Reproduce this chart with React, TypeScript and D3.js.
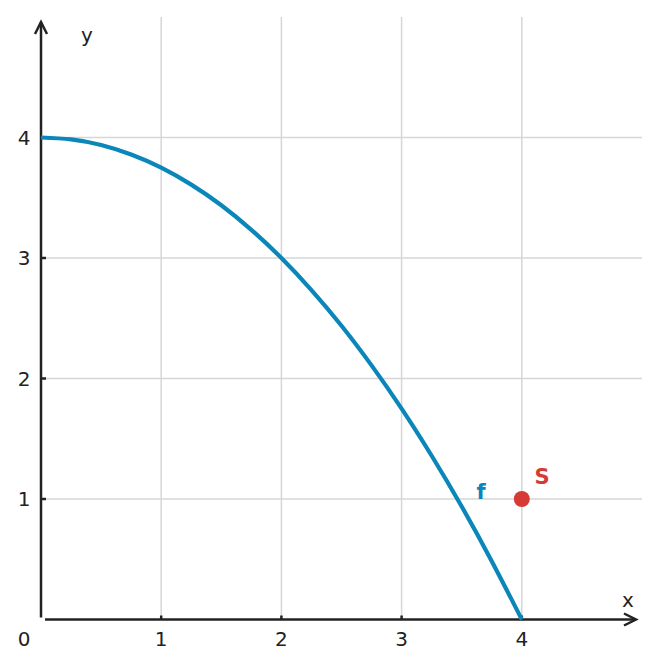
import { useEffect, useRef } from "react";
import * as d3 from "d3";

// curve f
const curveX = [0, 0.25, 0.5, 0.75, 1, 1.25, 1.5, 1.75, 2, 2.25, 2.5, 2.75, 3, 3.25, 3.5, 3.75, 4];
const curveY = [4, 3.984, 3.938, 3.859, 3.75, 3.609, 3.438, 3.234, 3, 2.734, 2.438, 2.109, 1.75, 1.359, 0.938, 0.484, 0];

const pointS = { x: 4, y: 1 };
const ticks = [1, 2, 3, 4];

const W = 661;
const H = 668;
const FONT = "'DejaVu Sans', sans-serif";

export default function App() {
  const svgRef = useRef<SVGSVGElement>(null);

  useEffect(() => {
    if (!svgRef.current) return;
    const svg = d3.select(svgRef.current);
    svg.selectAll("*").remove();

    const x = d3.scaleLinear().domain([0, 5]).range([41, 642]);
    const y = d3.scaleLinear().domain([0, 5]).range([619.5, 17]);

    // grid
    const grid = svg.append("g").attr("stroke", "#d6d6d6").attr("stroke-width", 1.5);
    ticks.forEach((t) => {
      grid.append("line").attr("x1", x(t)).attr("x2", x(t)).attr("y1", y(5)).attr("y2", y(0));
      grid.append("line").attr("x1", x(0)).attr("x2", x(5)).attr("y1", y(t)).attr("y2", y(t));
    });

    // axes
    const axis = svg.append("g").attr("stroke", "#222").attr("stroke-width", 2.5).attr("fill", "none");
    axis.append("line").attr("x1", x(0)).attr("x2", x(0)).attr("y1", y(0) - 2).attr("y2", 22);
    axis.append("path").attr("d", `M${x(0) - 6},${34} L${x(0)},${22} L${x(0) + 6},${34}`);
    axis.append("line").attr("x1", x(0) + 4).attr("x2", 636).attr("y1", y(0)).attr("y2", y(0));
    axis.append("path").attr("d", `M${624},${y(0) - 6} L${636},${y(0)} L${624},${y(0) + 6}`);

    // tick marks
    ticks.forEach((t) => {
      axis.append("line").attr("x1", x(t)).attr("x2", x(t)).attr("y1", y(0)).attr("y2", y(0) - 4);
      axis.append("line").attr("x1", x(0)).attr("x2", x(0) + 5).attr("y1", y(t)).attr("y2", y(t));
    });

    // tick labels
    const labels = svg.append("g").attr("font-family", FONT).attr("font-size", 20).attr("fill", "#222");
    ticks.forEach((t) => {
      labels.append("text").attr("x", x(t)).attr("y", 646).attr("text-anchor", "middle").text(t);
      labels.append("text").attr("x", 24).attr("y", y(t) + 7).attr("text-anchor", "middle").text(t);
    });
    labels.append("text").attr("x", 24).attr("y", 646).attr("text-anchor", "middle").text("0");
    labels.append("text").attr("x", 87).attr("y", 42).attr("text-anchor", "middle").text("y");
    labels.append("text").attr("x", 628).attr("y", 607).attr("text-anchor", "middle").text("x");

    // curve f
    const pts = curveX.map((v, i) => [v, curveY[i]] as [number, number]);
    const line = d3.line<[number, number]>()
      .x((d) => x(d[0]))
      .y((d) => y(d[1]))
      .curve(d3.curveNatural);
    svg.append("path")
      .attr("d", line(pts))
      .attr("fill", "none")
      .attr("stroke", "#0a86b8")
      .attr("stroke-width", 4.2);

    svg.append("text")
      .attr("x", 481).attr("y", 499)
      .attr("text-anchor", "middle")
      .attr("font-family", FONT).attr("font-size", 21).attr("font-weight", "bold")
      .attr("fill", "#0a86b8")
      .text("f");

    // point S
    svg.append("circle").attr("cx", x(pointS.x)).attr("cy", y(pointS.y)).attr("r", 8).attr("fill", "#d63a34");
    svg.append("text")
      .attr("x", 542).attr("y", 484)
      .attr("text-anchor", "middle")
      .attr("font-family", FONT).attr("font-size", 21).attr("font-weight", "bold")
      .attr("fill", "#d63a34")
      .text("S");
  }, []);

  return (
    <svg
      ref={svgRef}
      width={W}
      height={H}
      style={{ position: "absolute", left: 0, top: 0, background: "#fff" }}
    />
  );
}
